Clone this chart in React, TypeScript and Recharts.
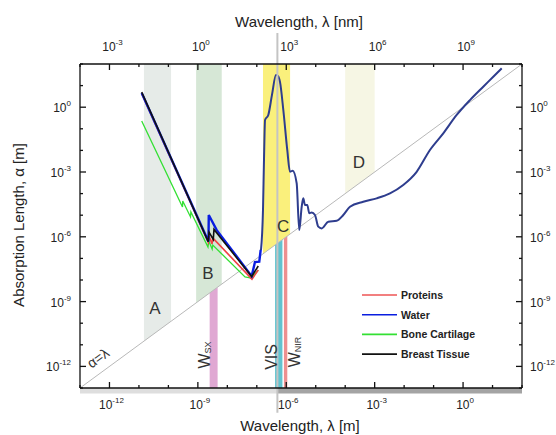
import React from 'react';
import {
  ComposedChart, Line, Area, XAxis, YAxis,
  ReferenceLine, ReferenceArea, ReferenceDot
} from 'recharts';

// all values are log10 (wavelength in m, absorption length in m)
const waterXrayL = [-10.906, -8.64, -8.63, -8.36, -7.174, -7.062, -6.916, -6.868];
const waterXrayA = [0.66, -6.22, -4.99, -5.69, -7.82, -7.17, -7.15, -6.61];

const breastL = [-10.906, -8.647, -8.623, -8.477, -8.453, -7.174, -6.95];
const breastA = [0.7, -6.23, -5.78, -6.12, -5.66, -7.84, -7.35];

const proteinL = [-10.906, -8.647, -8.62, -8.52, -8.49, -7.164, -6.95];
const proteinA = [0.63, -6.25, -5.96, -6.33, -6.06, -7.96, -7.54];

const boneL = [-10.906, -9.522, -9.513, -9.25, -9.237, -8.657, -8.63, -8.515, -8.494, -7.4, -7.197, -6.95];
const boneA = [-0.64, -4.62, -4.34, -5.08, -4.85, -6.47, -6.19, -6.57, -6.38, -7.86, -7.91, -7.54];

const waterOptL = [-6.858, -6.79, -6.756, -6.72, -6.61, -6.485, -6.35, -6.28, -6.213, -6.1, -5.966, -5.874,
  -5.783, -5.647, -5.559, -5.477, -5.423, -5.365, -5.287, -5.219, -5.138, -5.026, -4.914, -4.798, -4.574,
  -4.29, -4.065, -3.838, -3.387, -2.932, -2.481, -2.03, -1.575, -1.124, -0.672, -0.217, 0.234, 0.685, 1.025, 1.31];
const waterOptA = [-6.61, -4.76, -2.44, -0.59, -0.36, 0.57, 1.49, 1.44, 1.17, -0.13, -1.98, -2.99,
  -2.94, -3.52, -5.69, -4.61, -4.22, -4.53, -4.53, -4.91, -4.88, -4.99, -5.53, -5.61, -5.3,
  -5.26, -4.99, -4.61, -4.38, -4.22, -3.99, -3.6, -2.99, -1.98, -1.21, -0.36, 0.33, 0.95, 1.41, 1.8];

// spectral regions, log10 wavelength [from, to]
const bandA = [-10.83, -9.91];
const bandB = [-9.06, -8.19];
const bandC = [-6.79, -5.87];
const bandD = [-4.0, -3.0];
const bandWsx = [-8.6, -8.33];
const bandVis = [-6.38, -6.13];
const bandNir = [-6.08, -5.965];

const meterTicks = [1e-13, 1e-12, 1e-11, 1e-10, 1e-9, 1e-8, 1e-7, 1e-6, 1e-5, 1e-4, 1e-3, 1e-2, 1e-1, 1, 10, 100];
const nmTicks = [1e-4, 1e-3, 1e-2, 1e-1, 1, 10, 100, 1e3, 1e4, 1e5, 1e6, 1e7, 1e8, 1e9, 1e10, 1e11];

const legendItems = [
  { name: 'Proteins', color: '#ee5555' },
  { name: 'Water', color: '#0a1ee0' },
  { name: 'Bone Cartilage', color: '#33e033' },
  { name: 'Breast Tissue', color: '#111111' },
];

const FONT = '"Liberation Sans", Arial, sans-serif';

const pts = (l: number[], a: number[]) => l.map((v, i) => ({ x: 10 ** v, y: 10 ** a[i] }));
// band between alpha=lambda diagonal and top (upper) or bottom and diagonal (lower)
const band = (r: number[], upper: boolean) =>
  r.map((v) => ({ x: 10 ** v, y: upper ? [10 ** v, 100] : [1e-13, 10 ** v] }));
// alpha = lambda, with lambda given in nm on the top axis
const diagonalNm = [{ x: 1e-4, y: 1e-13 }, { x: 1e11, y: 100 }];

const Pow = ({ x, y, exp, anchor }: any) => (
  <text x={x} y={y} textAnchor={anchor} fontFamily={FONT} fill="#222">
    <tspan fontSize={12}>10</tspan>
    <tspan fontSize={8} dy={-6}>{exp}</tspan>
  </text>
);

const makeTick = (side: string) => (p: any) => {
  const { x, y, payload } = p;
  const exp = Math.round(Math.log10(payload.value));
  const major = exp % 3 === 0;
  const len = major ? 6 : 3;
  let line;
  let label = null;
  if (side === 'bottom') {
    line = <line x1={x} y1={y} x2={x} y2={y - len} stroke="#111" strokeWidth={1.3} />;
    if (major) label = <Pow x={x + 2} y={y + 21} exp={exp} anchor="middle" />;
  } else if (side === 'top') {
    line = <line x1={x} y1={y} x2={x} y2={y + len} stroke="#111" strokeWidth={1.3} />;
    if (major) label = <Pow x={x + 3} y={y - 13} exp={exp} anchor="middle" />;
  } else if (side === 'left') {
    line = <line x1={x} y1={y} x2={x + len} y2={y} stroke="#111" strokeWidth={1.3} />;
    if (major) label = <Pow x={x - 9} y={y + 5} exp={exp} anchor="end" />;
  } else {
    line = <line x1={x} y1={y} x2={x - len} y2={y} stroke="#111" strokeWidth={1.3} />;
    if (major) label = <Pow x={x + 8} y={y + 5} exp={exp} anchor="start" />;
  }
  return <g>{line}{label}</g>;
};

const tag = (content: React.ReactNode, size: number, angle = 0) => (p: any) => (
  <text x={p.cx} y={p.cy} textAnchor="middle" dominantBaseline="central" fontFamily={FONT}
    fontSize={size} fill="#333" transform={angle ? `rotate(${angle} ${p.cx} ${p.cy})` : undefined}>
    {content}
  </text>
);

const App = () => {
  return (
    <div style={{ position: 'absolute', left: 0, top: 0 }}>
      <ComposedChart width={556} height={435} margin={{ top: 0, right: 0, bottom: 0, left: 0 }}>
        <XAxis dataKey="x" type="number" scale="log" domain={[1e-13, 100]} allowDataOverflow
          ticks={meterTicks} interval={0} height={47} tickSize={0} tickMargin={0}
          axisLine={{ stroke: '#111', strokeWidth: 1.3 }} tick={makeTick('bottom')} />
        <XAxis xAxisId="top" dataKey="x" orientation="top" type="number" scale="log" domain={[1e-4, 1e11]} allowDataOverflow
          ticks={nmTicks} interval={0} height={64} tickSize={0} tickMargin={0}
          axisLine={{ stroke: '#111', strokeWidth: 1.3 }} tick={makeTick('top')} />
        <YAxis type="number" scale="log" domain={[1e-13, 100]} allowDataOverflow
          ticks={meterTicks} interval={0} width={80} tickSize={0} tickMargin={0}
          axisLine={{ stroke: '#111', strokeWidth: 1.3 }} tick={makeTick('left')} />
        <YAxis yAxisId="right" orientation="right" type="number" scale="log" domain={[1e-13, 100]} allowDataOverflow
          ticks={meterTicks} interval={0} width={34} tickSize={0} tickMargin={0}
          axisLine={{ stroke: '#111', strokeWidth: 1.3 }} tick={makeTick('right')} />

        <Area data={band(bandA, true)} dataKey="y" type="linear" fill="#e6ebe8" fillOpacity={1} stroke="none" isAnimationActive={false} />
        <Area data={band(bandB, true)} dataKey="y" type="linear" fill="#d6e7d6" fillOpacity={1} stroke="none" isAnimationActive={false} />
        <Area data={band(bandC, true)} dataKey="y" type="linear" fill="#faf07c" fillOpacity={1} stroke="none" isAnimationActive={false} />
        <Area data={band(bandD, true)} dataKey="y" type="linear" fill="#f6f6e4" fillOpacity={1} stroke="none" isAnimationActive={false} />
        <Area data={band(bandWsx, false)} dataKey="y" type="linear" fill="#e0a8d3" fillOpacity={1} stroke="none" isAnimationActive={false} />
        <Area data={band(bandVis, false)} dataKey="y" type="linear" fill="#62c3cf" fillOpacity={1} stroke="none" isAnimationActive={false} />
        <Area data={band(bandNir, false)} dataKey="y" type="linear" fill="#ee9090" fillOpacity={1} stroke="none" isAnimationActive={false} />

        <Line xAxisId="top" data={diagonalNm} dataKey="y" type="linear" stroke="#b8b8b8" strokeWidth={1} dot={false} isAnimationActive={false} />

        <Line data={pts(boneL, boneA)} dataKey="y" type="linear" stroke="#33e033" strokeWidth={1.3} dot={false} isAnimationActive={false} />
        <Line data={pts(proteinL, proteinA)} dataKey="y" type="linear" stroke="#ee4444" strokeWidth={1.6} dot={false} isAnimationActive={false} />
        <Line data={pts(waterXrayL, waterXrayA)} dataKey="y" type="linear" stroke="#0a1ee0" strokeWidth={2.4} dot={false} isAnimationActive={false} />
        <Line data={pts(breastL, breastA)} dataKey="y" type="linear" stroke="#111" strokeWidth={1.6} dot={false} isAnimationActive={false} />
        <Line data={pts(waterOptL, waterOptA)} dataKey="y" type="monotone" stroke="#2e3d8e" strokeWidth={2} dot={false} isAnimationActive={false} />

        <ReferenceLine segment={[{ x: 5e-7, y: 10 ** 3.43 }, { x: 5e-7, y: 10 ** -14.15 }]} ifOverflow="visible"
          stroke="#c4c4c4" strokeWidth={2} />
        <ReferenceArea x1={1e-13} x2={5e-7} y1={10 ** -13.25} y2={1e-13} ifOverflow="visible" fill="#dedede" fillOpacity={1} stroke="none" />
        <ReferenceArea x1={5e-7} x2={100} y1={10 ** -13.25} y2={1e-13} ifOverflow="visible" fill="#a4a4a4" fillOpacity={1} stroke="none" />

        <ReferenceDot x={10 ** -10.455} y={10 ** -9.3} r={0} shape={tag('A', 17)} />
        <ReferenceDot x={10 ** -8.657} y={10 ** -7.68} r={0} shape={tag('B', 17)} />
        <ReferenceDot x={10 ** -6.11} y={10 ** -5.5} r={0} shape={tag('C', 17)} />
        <ReferenceDot x={10 ** -3.533} y={10 ** -2.58} r={0} shape={tag('D', 17)} />
        <ReferenceDot x={10 ** -12.39} y={10 ** -11.61} r={0} shape={tag('α=λ', 14, -36)} />
        <ReferenceDot x={10 ** -8.79} y={10 ** -11.47} r={0}
          shape={tag(<><tspan>W</tspan><tspan fontSize={9} dy={4}>SX</tspan></>, 16, -90)} />
        <ReferenceDot x={10 ** -6.485} y={10 ** -11.56} r={0} shape={tag('VIS', 16, -90)} />
        <ReferenceDot x={10 ** -5.74} y={10 ** -11.33} r={0}
          shape={tag(<><tspan>W</tspan><tspan fontSize={9} dy={4}>NIR</tspan></>, 16, -90)} />

        <text x={299} y={27} textAnchor="middle" fontFamily={FONT} fontSize={15} fill="#222">Wavelength, λ [nm]</text>
        <text x={300} y={431} textAnchor="middle" fontFamily={FONT} fontSize={15} fill="#222">Wavelength, λ [m]</text>
        <text x={18} y={225} textAnchor="middle" dominantBaseline="central" fontFamily={FONT} fontSize={15} fill="#222"
          transform="rotate(-90 18 225)">Absorption Length, α [m]</text>

        <g>
          {legendItems.map((it, i) => (
            <g key={it.name}>
              <line x1={362} x2={397} y1={295 + i * 19.7} y2={295 + i * 19.7} stroke={it.color} strokeWidth={1.6} />
              <text x={401} y={299 + i * 19.7} fontFamily={FONT} fontSize={10.5} fontWeight="bold" fill="#222">{it.name}</text>
            </g>
          ))}
        </g>
      </ComposedChart>
    </div>
  );
};

export default App;
